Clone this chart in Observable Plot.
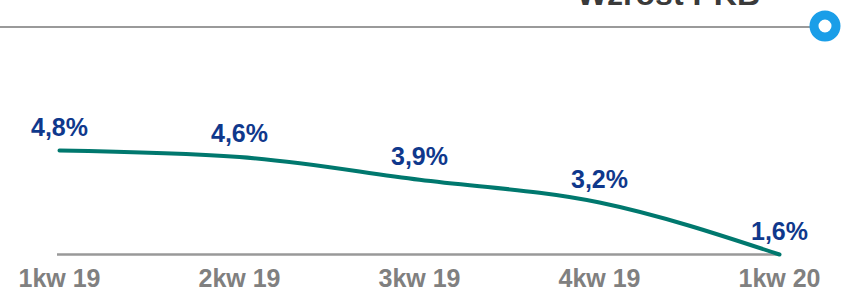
<!DOCTYPE html>
<html>
<head>
<meta charset="utf-8">
<script src="https://cdn.jsdelivr.net/npm/d3@7"></script>
<script src="https://cdn.jsdelivr.net/npm/@observablehq/plot@0.6"></script>
<style>
  html, body { margin: 0; padding: 0; background: #fff; overflow: hidden; }
  #wrap { position: relative; width: 845px; height: 291px; }
  #title { position: absolute; right: 85px; top: -22px; font: bold 32px "Liberation Sans", Arial, sans-serif; line-height: 32px; color: #3a3a3a; white-space: nowrap; }
  #chart { position: absolute; left: 0; top: 0; }
</style>
</head>
<body>
<div id="wrap">
  <div id="chart"></div>
  <div id="title">Wzrost PKB</div>
</div>
<script>
const categories = ["1kw 19", "2kw 19", "3kw 19", "4kw 19", "1kw 20"];
const values = [4.8, 4.6, 3.9, 3.2, 1.6];

const data = categories.map((c, i) => ({ q: c, v: values[i], label: values[i].toFixed(1).replace(".", ",") + "%" }));

const plot = Plot.plot({
  width: 845,
  height: 291,
  marginLeft: 57,
  marginRight: 65,
  marginTop: 150,
  marginBottom: 37,
  style: { fontFamily: "'Liberation Sans', Arial, sans-serif", background: "transparent", overflow: "visible" },
  x: { type: "point", domain: categories, padding: 0 },
  y: { domain: [1.6, 4.8], axis: null },
  marks: [
    Plot.ruleY([1.6], { stroke: "#999999", strokeWidth: 2.5 }),
    Plot.line(data, { x: "q", y: "v", curve: "monotone-x", stroke: "#00786e", strokeWidth: 4 }),
    Plot.text(data, { x: "q", y: "v", text: "label", lineAnchor: "bottom", dy: -15, fontSize: 25, fontWeight: "bold", fill: "#0f388c" }),
    Plot.axisX({ tickSize: 0, tickPadding: 15, fontSize: 25, fontWeight: "bold", color: "#808080", label: null })
  ]
});
document.getElementById("chart").appendChild(plot);

// decorative header rule and ring
const svg = d3.select(plot);
svg.append("line").attr("x1", 0).attr("x2", 812).attr("y1", 27).attr("y2", 27)
  .attr("stroke", "#9a9a9a").attr("stroke-width", 2);
svg.append("circle").attr("cx", 825).attr("cy", 26).attr("r", 11)
  .attr("fill", "#fff").attr("stroke", "#1a9ee8").attr("stroke-width", 9);
</script>
</body>
</html>
